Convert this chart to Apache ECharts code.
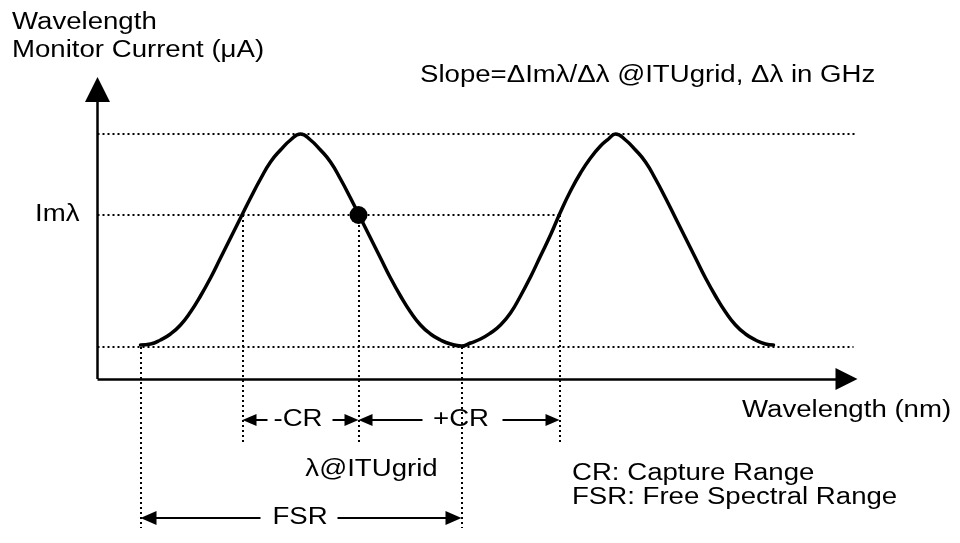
<!DOCTYPE html>
<html><head><meta charset="utf-8">
<script src="https://cdn.jsdelivr.net/npm/echarts@6/dist/echarts.min.js"></script>
<style>html,body{margin:0;padding:0;background:#fff}#c{width:960px;height:543px}</style>
</head><body><div id="c"></div>
<script>
// ---------- data (arbitrary units) ----------
const curveX = [43,53,63,73,83,93,103,113,123,133,143,153,163,173,183,193,203,213,223,233,243,253,263,273,283,293,303,313,323,333,343,353,364,373,383,393,403,413,423,433,443,453,463,473,483,493,503,511,518,528,538,548,558,568,578,588,598,608,618,628,638,648,658,668,676];
const curveY = [34,35,39,45,54,67,83,101,121,141,161,181,200,217,229,239,245,239,229,217,200,181,161,141,121,101,83,67,54,45,39,35,33,36,40,46,54,66,83,102,123,144,167,188,206,221,233,240,245,239,229,217,200,181,161,141,121,101,83,67,54,45,39,35,34];
const levelNames = ['peak', 'Imλ', 'floor'];
const levelValues = [245, 164, 32];
const levelEnds = [760, 462, 756];
const guideX = [43, 145, 261, 364, 462];
const guideTop = [32, 164, 164, 32, 164];
const guideBottom = [-149, -66, -66, -149, -66];
const ituPoint = [261, 164];
const crRow = -41, ituRow = -91, fsrRow = -139;
const dimNames = ['-CR', '-CR', '+CR', '+CR', 'FSR', 'FSR'];
const dimFrom = [170, 235, 325, 405, 163, 240];
const dimTip = [145, 261, 261, 462, 43, 364];
const dimRow = [crRow, crRow, crRow, crRow, fsrRow, fsrRow];
const dimLabels = ['-CR', '+CR', 'λ@ITUgrid', 'FSR'];
const dimLabelX = [200.5, 363.5, 274, 202.5];
const dimLabelY = [crRow, crRow, ituRow, fsrRow];

// ---------- layout ----------
const X_MIN = 0, X_MAX = 760, Y_MIN = -149, Y_MAX = 302;
const GRID = { left: 97.5, top: 77, width: 760, height: 451 };
const uX = (X_MAX - X_MIN) / GRID.width, uY = (Y_MAX - Y_MIN) / GRID.height;
const FONT = '"Liberation Sans", Arial, sans-serif';
const FS = 23, SX = 1.2;

function arrow(x1, y1, x2, y2, size, width) {
  const dxp = (x2 - x1) / uX, dyp = (y2 - y1) / uY;
  const len = Math.hypot(dxp, dyp);
  const back = size[1] / 2;
  const ex = x2 - dxp / len * back * uX, ey = y2 - dyp / len * back * uY;
  return [
    { coord: [x1, y1], symbol: 'none', lineStyle: { width: width, color: '#000', type: 'solid' } },
    { coord: [ex, ey], symbol: 'triangle', symbolSize: size }
  ];
}

const guideLines = [];
levelValues.forEach((v, i) => guideLines.push([{ coord: [0, v] }, { coord: [levelEnds[i], v] }]));
guideX.forEach((x, i) => guideLines.push([{ coord: [x, guideTop[i]] }, { coord: [x, guideBottom[i]] }]));

const axisLines = [
  arrow(0, 0, 0, Y_MAX, [25, 25], 2.5),
  arrow(0, 0, X_MAX, 0, [22, 22], 2.5)
];
const dimLines = dimFrom.map((f, i) => {
  const sz = dimNames[i] === 'FSR' ? [14, 16] : [12, 14];
  return arrow(f, dimRow[i], dimTip[i], dimRow[i], sz, 2);
});

const chart = echarts.init(document.getElementById('c'), null, { renderer: 'canvas' });
const emptyLine = (name, ml, z) => ({
  name, type: 'line', data: [], silent: true, z,
  markLine: Object.assign({ silent: true, animation: false, label: { show: false }, emphasis: { disabled: true } }, ml)
});
chart.setOption({
  animation: false,
  backgroundColor: '#fff',
  grid: { left: GRID.left, top: GRID.top, width: GRID.width, height: GRID.height },
  xAxis: { type: 'value', min: X_MIN, max: X_MAX, show: false },
  yAxis: { type: 'value', min: Y_MIN, max: Y_MAX, show: false },
  series: [
    emptyLine('guides', { symbol: ['none', 'none'], lineStyle: { color: '#000', width: 2, type: [2, 3] }, data: guideLines }, 1),
    emptyLine('axes', { symbol: ['none', 'triangle'], itemStyle: { color: '#000' }, lineStyle: { color: '#000', width: 2.5, type: 'solid' }, data: axisLines }, 3),
    emptyLine('dims', { symbol: ['none', 'triangle'], itemStyle: { color: '#000' }, lineStyle: { color: '#000', width: 2, type: 'solid' }, data: dimLines }, 3),
    {
      name: 'Monitor current', type: 'line', z: 4, silent: true,
      data: curveX.map((x, i) => [x, curveY[i]]),
      smooth: 0.5, showSymbol: false, symbol: 'none',
      lineStyle: { color: '#000', width: 3.5, cap: 'round', join: 'round' }
    },
    {
      name: 'λ@ITUgrid', type: 'scatter', z: 5, silent: true,
      data: [ituPoint], symbol: 'circle', symbolSize: 18,
      itemStyle: { color: '#000', opacity: 1 }
    }
  ]
});

function txt(text, x, y, align) {
  return {
    type: 'text', x, y, scaleX: SX, z: 10, silent: true,
    style: { text, fontSize: FS, fontFamily: FONT, fill: '#000',
      align: align || 'left', verticalAlign: 'middle',
      textAlign: align || 'left', textVerticalAlign: 'middle' }
  };
}
const toPx = (p) => chart.convertToPixel({ gridIndex: 0 }, p);
const g = [
  txt('Wavelength', 12, 23),
  txt('Monitor Current (μA)', 12, 51),
  txt('Slope=ΔImλ/Δλ @ITUgrid, Δλ in GHz', 420, 76),
  txt('Imλ', 35, toPx([0, levelValues[1]])[1]),
  txt('Wavelength (nm)', 742, 411),
  txt('CR: Capture Range', 572, 474),
  txt('FSR: Free Spectral Range', 572, 498)
];
dimLabels.forEach((t, i) => {
  const p = toPx([dimLabelX[i], dimLabelY[i]]);
  g.push(txt(t, p[0], p[1], 'center'));
});
chart.setOption({ graphic: g });
</script>
</body></html>
